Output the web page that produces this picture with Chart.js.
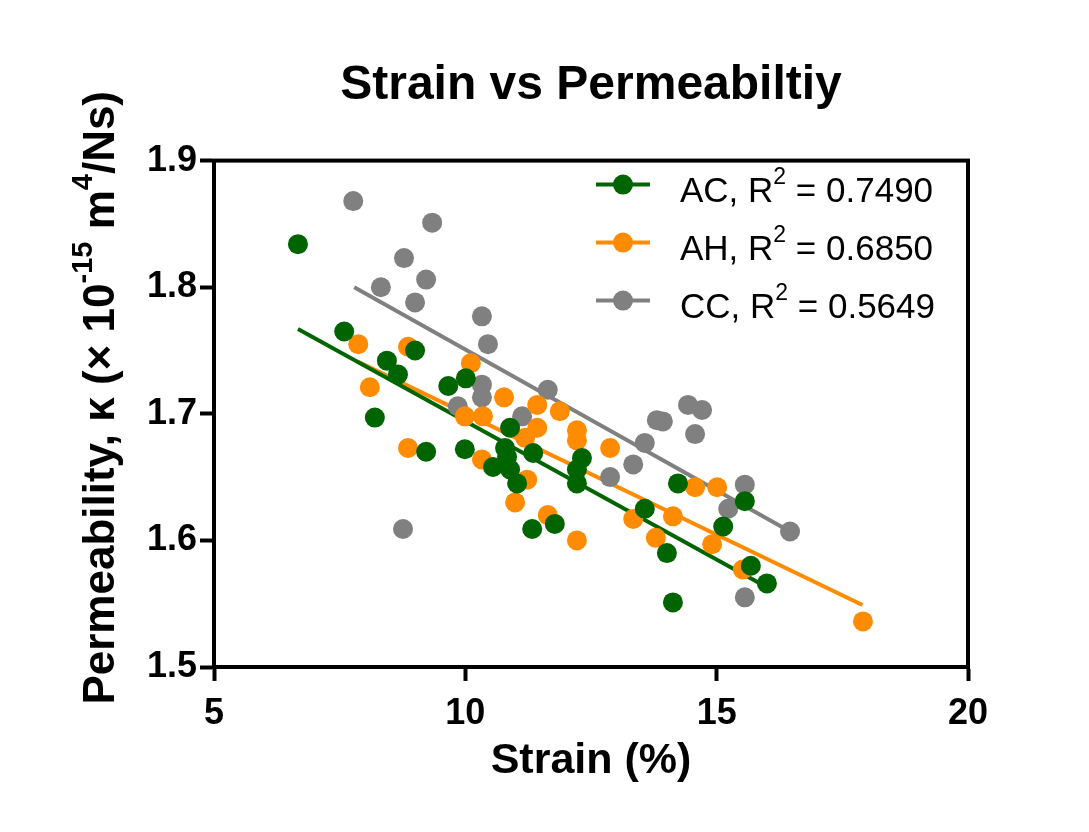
<!DOCTYPE html>
<html>
<head>
<meta charset="utf-8">
<title>Strain vs Permeabiltiy</title>
<script src="https://cdn.jsdelivr.net/npm/chart.js@4.4.1/dist/chart.umd.min.js"></script>
<style>
  html, body { margin: 0; padding: 0; background: #fff; }
  #wrap { position: relative; width: 1089px; height: 832px; }
</style>
</head>
<body>
<div id="wrap"><canvas id="chart"></canvas></div>
<script>
const FONT = '"Liberation Sans", Arial, Helvetica, sans-serif';

const seriesNames = ['AC', 'AH', 'CC'];
const seriesColors = ['#006400', '#FF8C00', '#808080'];
const rSquared = ['0.7490', '0.6850', '0.5649'];

const xTicks = [5, 10, 15, 20];
const yTicks = [1.5, 1.6, 1.7, 1.8, 1.9];

// AC
const acStrain = [6.67, 7.59, 8.44, 8.66, 9.00, 8.20, 9.22, 9.66, 10.01, 9.99, 10.89, 10.79, 10.55, 10.83, 10.89,
  11.03, 11.35, 11.33, 11.78, 12.32, 12.22, 12.22, 13.57, 14.01, 14.23, 15.13, 15.56, 15.68, 16.00, 14.13];
const acPerm = [1.834, 1.765, 1.742, 1.731, 1.750, 1.697, 1.670, 1.722, 1.728, 1.672, 1.689, 1.673, 1.658, 1.666, 1.656,
  1.645, 1.669, 1.609, 1.613, 1.665, 1.656, 1.645, 1.625, 1.590, 1.645, 1.611, 1.631, 1.580, 1.566, 1.551];

// AH
const ahStrain = [7.87, 8.86, 8.10, 10.11, 9.99, 10.35, 10.77, 8.86, 10.33, 10.99, 11.23, 11.43, 11.43, 11.19,
  11.88, 12.22, 12.22, 12.88, 11.64, 12.22, 13.34, 14.13, 13.79, 14.57, 15.01, 14.91, 15.52, 17.91];
const ahPerm = [1.755, 1.753, 1.721, 1.740, 1.698, 1.698, 1.713, 1.673, 1.664, 1.630, 1.648, 1.689, 1.707, 1.681,
  1.702, 1.687, 1.679, 1.673, 1.620, 1.600, 1.617, 1.619, 1.602, 1.642, 1.642, 1.597, 1.577, 1.536];

// CC
const ccStrain = [7.77, 9.34, 8.78, 9.22, 8.32, 9.00, 10.33, 10.45, 9.85, 10.33, 10.33, 11.13, 11.64, 8.76,
  12.88, 13.34, 13.57, 13.81, 13.93, 14.43, 14.71, 14.57, 15.56, 15.23, 16.46, 15.56];
const ccPerm = [1.868, 1.851, 1.823, 1.806, 1.800, 1.788, 1.777, 1.755, 1.706, 1.723, 1.713, 1.698, 1.719, 1.609,
  1.650, 1.660, 1.677, 1.695, 1.694, 1.707, 1.703, 1.684, 1.644, 1.625, 1.607, 1.555];

// linear fits (end points)
const acFitStrain = [6.67, 16.00];
const acFitPerm = [1.767, 1.563];
const ahFitStrain = [7.87, 17.90];
const ahFitPerm = [1.741, 1.549];
const ccFitStrain = [7.79, 16.46];
const ccFitPerm = [1.800, 1.607];

const pts = (xs, ys) => xs.map((x, i) => ({ x: x, y: ys[i] }));

const scatterSets = [[acStrain, acPerm], [ahStrain, ahPerm], [ccStrain, ccPerm]];
const fitSets = [[acFitStrain, acFitPerm], [ahFitStrain, ahFitPerm], [ccFitStrain, ccFitPerm]];

const datasets = [];
scatterSets.forEach((s, i) => {
  datasets.push({
    label: seriesNames[i],
    data: pts(s[0], s[1]),
    backgroundColor: seriesColors[i],
    borderWidth: 0,
    pointRadius: 10,
    pointHoverRadius: 10,
    order: 0,
  });
});
fitSets.forEach((s, i) => {
  datasets.push({
    label: seriesNames[i] + ' fit',
    data: pts(s[0], s[1]),
    showLine: true,
    borderColor: seriesColors[i],
    borderWidth: 4,
    pointRadius: 0,
    fill: false,
    order: 1,
  });
});

// draws text with superscript parts
function drawRich(ctx, parts, x, y, size, weight) {
  const supSize = Math.round(size * 0.65);
  const widths = parts.map((p) => {
    ctx.font = weight + ' ' + (p.sup ? supSize : size) + 'px ' + FONT;
    return ctx.measureText(p.t).width;
  });
  const total = widths.reduce((a, b) => a + b, 0);
  let cx = x === null ? -total / 2 : x;
  parts.forEach((p, i) => {
    ctx.font = weight + ' ' + (p.sup ? supSize : size) + 'px ' + FONT;
    ctx.fillText(p.t, cx, p.sup ? y - size * 0.5 : y);
    cx += widths[i];
  });
}

const framePlugin = {
  id: 'frame',
  afterDraw(chart) {
    const { ctx, chartArea: a } = chart;
    ctx.save();
    ctx.strokeStyle = '#000';
    ctx.lineWidth = 4;
    ctx.strokeRect(a.left, a.top, a.right - a.left, a.bottom - a.top);
    ctx.restore();
  },
};

const legendPlugin = {
  id: 'innerLegend',
  afterDraw(chart) {
    const { ctx, chartArea: a } = chart;
    ctx.save();
    ctx.textAlign = 'left';
    ctx.textBaseline = 'alphabetic';
    seriesNames.forEach((name, i) => {
      const y = a.top + 24 + i * 58;
      const x0 = a.left + 382;
      ctx.strokeStyle = seriesColors[i];
      ctx.lineWidth = 4;
      ctx.beginPath();
      ctx.moveTo(x0, y);
      ctx.lineTo(x0 + 54, y);
      ctx.stroke();
      ctx.fillStyle = seriesColors[i];
      ctx.beginPath();
      ctx.arc(x0 + 27, y, 10, 0, Math.PI * 2);
      ctx.fill();
      ctx.fillStyle = '#000';
      drawRich(ctx, [{ t: name + ', R' }, { t: '2', sup: true }, { t: ' = ' + rSquared[i] }],
        x0 + 84, y + 17, 35, 'normal');
    });
    ctx.restore();
  },
};

const yTitlePlugin = {
  id: 'yTitle',
  afterDraw(chart) {
    const { ctx, chartArea: a } = chart;
    ctx.save();
    ctx.translate(a.left - 100, (a.top + a.bottom) / 2 - 16);
    ctx.rotate(-Math.PI / 2);
    ctx.fillStyle = '#000';
    ctx.textAlign = 'left';
    ctx.textBaseline = 'alphabetic';
    drawRich(ctx, [
      { t: 'Permeability, \u03BA (\u00D7 10' },
      { t: '-15', sup: true },
      { t: ' m' },
      { t: '4', sup: true },
      { t: '/Ns)' },
    ], null, 0, 44, 'bold');
    ctx.restore();
  },
};

const tickFont = { family: FONT, size: 36, weight: 'bold' };

new Chart(document.getElementById('chart'), {
  type: 'scatter',
  data: { datasets: datasets },
  options: {
    responsive: true,
    maintainAspectRatio: false,
    animation: false,
    layout: { padding: { top: 57, right: 121, bottom: 0, left: 0 } },
    plugins: {
      legend: { display: false },
      tooltip: { enabled: false },
      title: {
        display: true,
        text: 'Strain vs Permeabiltiy',
        fullSize: false,
        color: '#000',
        font: { family: FONT, size: 48, weight: 'bold' },
        padding: { top: 0, bottom: 46 },
      },
    },
    scales: {
      x: {
        type: 'linear',
        min: 5,
        max: 20,
        afterBuildTicks: (s) => { s.ticks = xTicks.map((v) => ({ value: v })); },
        afterFit: (s) => { s.height = 165; },
        ticks: { font: tickFont, color: '#000', padding: 11, maxRotation: 0, callback: (v) => String(v) },
        grid: { drawOnChartArea: false, drawTicks: true, tickLength: 14, tickWidth: 4, tickColor: '#000' },
        border: { display: true, color: '#000', width: 4 },
        title: {
          display: true,
          text: 'Strain (%)',
          color: '#000',
          font: { family: FONT, size: 43, weight: 'bold' },
          padding: { top: 0, bottom: 45 },
        },
      },
      y: {
        type: 'linear',
        min: 1.5,
        max: 1.9,
        afterBuildTicks: (s) => { s.ticks = yTicks.map((v) => ({ value: v })); },
        afterFit: (s) => { s.width = 214; },
        ticks: { font: tickFont, color: '#000', padding: 3, callback: (v) => Number(v).toFixed(1) },
        grid: { drawOnChartArea: false, drawTicks: true, tickLength: 14, tickWidth: 4, tickColor: '#000' },
        border: { display: true, color: '#000', width: 4 },
      },
    },
  },
  plugins: [framePlugin, legendPlugin, yTitlePlugin],
});
</script>
</body>
</html>
